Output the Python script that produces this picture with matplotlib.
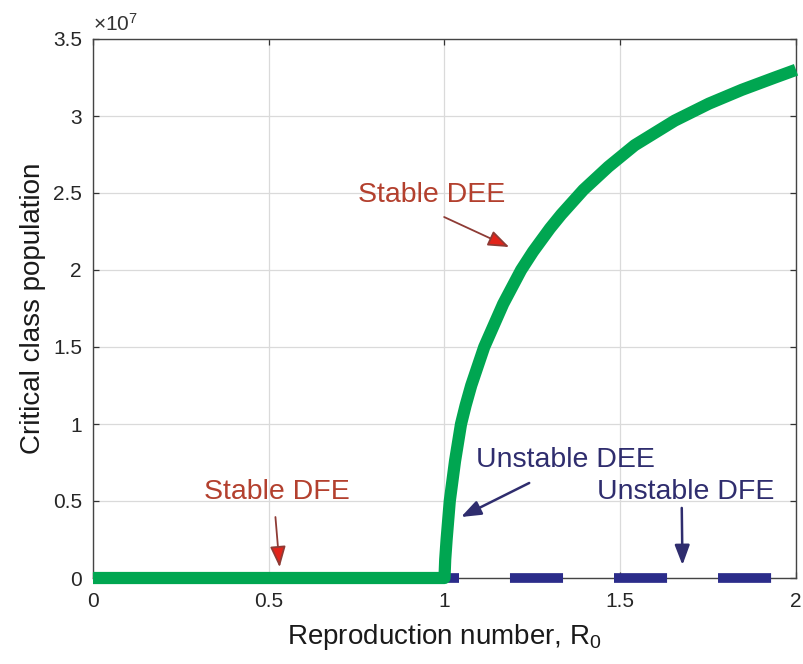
import matplotlib
matplotlib.use("Agg")
import matplotlib.pyplot as plt

# ---- data ----
r0_green = [0.0, 1.0, 1.002, 1.006, 1.015, 1.030, 1.047, 1.060, 1.076, 1.113, 1.167, 1.218,
            1.252, 1.300, 1.332, 1.395, 1.466, 1.541, 1.655, 1.752, 1.846, 1.940, 2.0]
pop_green = [0.0, 0.0, 0.12e7, 0.25e7, 0.50e7, 0.76e7, 1.00e7, 1.12e7, 1.25e7, 1.50e7, 1.78e7,
             2.00e7, 2.12e7, 2.27e7, 2.36e7, 2.52e7, 2.67e7, 2.81e7, 2.97e7, 3.08e7, 3.17e7,
             3.25e7, 3.30e7]
r0_blue = [1.0, 2.0]
pop_blue = [0.0, 0.0]

xticks = [0, 0.5, 1, 1.5, 2]
xticklabels = ["0", "0.5", "1", "1.5", "2"]
yticks = [0, 0.5e7, 1e7, 1.5e7, 2e7, 2.5e7, 3e7, 3.5e7]
yticklabels = ["0", "0.5", "1", "1.5", "2", "2.5", "3", "3.5"]

plt.rcParams["font.family"] = ["Liberation Sans", "DejaVu Sans"]
plt.rcParams["mathtext.default"] = "regular"
plt.rcParams["lines.scale_dashes"] = False

GREEN = "#00A651"
NAVY = "#2B2C8A"
RED_TXT = "#B3402E"
NAVY_TXT = "#2F2D6E"

fig = plt.figure(figsize=(8.04, 6.64), dpi=100)
ax = fig.add_axes([93/804, 86/664, (796-93)/804, (578-39)/664])

ax.plot(r0_blue, pop_blue, color=NAVY, lw=7.0, solid_capstyle="butt",
        dash_capstyle="butt", linestyle=(27.4, (38.2, 36.7)), clip_on=False, zorder=3)
ax.plot(r0_green, pop_green, color=GREEN, lw=8.8, solid_capstyle="butt",
        solid_joinstyle="round", clip_on=False, zorder=4)

ax.set_xlim(0, 2)
ax.set_ylim(0, 3.5e7)
ax.set_xticks(xticks)
ax.set_xticklabels(xticklabels)
ax.set_yticks(yticks)
ax.set_yticklabels(yticklabels)
ax.grid(True, color="#DADADA", lw=0.9)
ax.set_axisbelow(True)
ax.tick_params(direction="in", length=4, width=0.9, colors="#333333",
               top=True, right=True, labelsize=15)
ax.tick_params(axis="x", pad=10, labelcolor="#262626")
ax.tick_params(axis="y", pad=8, labelcolor="#262626")
for s in ax.spines.values():
    s.set_color("#444444")
    s.set_linewidth(1.0)

ax.set_xlabel("Reproduction number, R$_0$", fontsize=20, color="#1a1a1a", labelpad=8)
ax.set_ylabel("Critical class population", fontsize=20, color="#1a1a1a", labelpad=5)
ax.text(0.0, 1.008, "×10$^7$", transform=ax.transAxes, fontsize=15,
        color="#333333", ha="left", va="bottom")

# annotations
ax.text(0.962, 2.442e7, "Stable DEE", color=RED_TXT, fontsize=20.5, ha="center", va="baseline")
ax.text(0.522, 0.513e7, "Stable DFE", color=RED_TXT, fontsize=20.5, ha="center", va="baseline")
ax.text(1.345, 0.721e7, "Unstable DEE", color=NAVY_TXT, fontsize=20.5, ha="center", va="baseline")
ax.text(1.685, 0.513e7, "Unstable DFE", color=NAVY_TXT, fontsize=20.5, ha="center", va="baseline")

red_arrow = dict(arrowstyle="-|>,head_length=0.8,head_width=0.3", lw=1.3,
                 mutation_scale=16, edgecolor="#8E3B35", facecolor="#E2231A",
                 shrinkA=0, shrinkB=0)
navy_arrow = dict(arrowstyle="-|>,head_length=0.8,head_width=0.3", lw=1.8,
                  mutation_scale=15, color=NAVY_TXT, shrinkA=0, shrinkB=0)
ax.annotate("", xy=(1.184, 2.149e7), xytext=(0.999, 2.344e7), arrowprops=red_arrow, zorder=6)
ax.annotate("", xy=(0.531, 0.07e7), xytext=(0.519, 0.396e7), arrowprops=red_arrow, zorder=6)
ax.annotate("", xy=(1.047, 0.396e7), xytext=(1.241, 0.617e7), arrowprops=navy_arrow, zorder=6)
ax.annotate("", xy=(1.677, 0.084e7), xytext=(1.675, 0.455e7), arrowprops=navy_arrow, zorder=6)

fig.savefig("out.png", dpi=100)
